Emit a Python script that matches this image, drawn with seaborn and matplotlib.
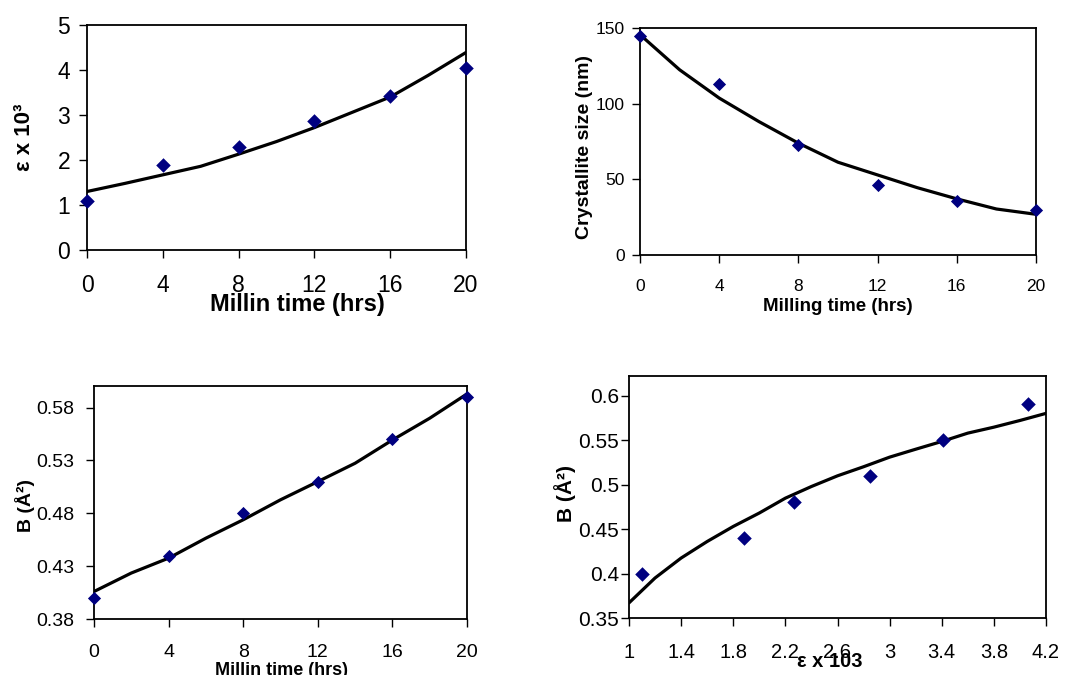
import numpy as np
import pandas as pd
import matplotlib
matplotlib.use("Agg")
import matplotlib.pyplot as plt
import seaborn as sns

# ---------------- data ----------------
milling_time = [0, 4, 8, 12, 16, 20]
strain = [1.09, 1.90, 2.30, 2.87, 3.43, 4.04]            # eps x 10^3
crystallite = [144.5, 113, 72.5, 46, 36, 29.5]           # nm
b_factor = [0.40, 0.44, 0.48, 0.51, 0.55, 0.59]          # A^2

fit_time = [0, 2, 4, 6, 8, 10, 12, 14, 16, 18, 20]
strain_fit = [1.30, 1.48, 1.67, 1.86, 2.13, 2.41, 2.72, 3.06, 3.40, 3.88, 4.39]
cryst_fit = [145.6, 122.4, 103.7, 88.2, 73.9, 61.3, 52.9, 44.5, 37.1, 30.4, 26.9]
b_fit = [0.406, 0.4235, 0.4376, 0.4565, 0.4739, 0.4928, 0.510, 0.5274, 0.5494, 0.570, 0.593]

strain_b_x = [1.10, 1.88, 2.27, 2.85, 3.41, 4.06]
strain_b_y = [0.40, 0.44, 0.48, 0.51, 0.55, 0.59]
sb_fit_x = [1.0, 1.2, 1.4, 1.6, 1.8, 2.0, 2.2, 2.4, 2.6, 2.8, 3.0, 3.2, 3.4, 3.6, 3.8, 4.0, 4.2]
sb_fit_y = [0.367, 0.395, 0.4174, 0.436, 0.4529, 0.468, 0.4847, 0.4978, 0.5098, 0.520,
            0.5308, 0.5397, 0.5484, 0.5578, 0.5645, 0.572, 0.580]

# ---------------- style ----------------
sns.set_theme(style="ticks")
plt.rcParams["font.family"] = ["Liberation Sans", "DejaVu Sans"]
plt.rcParams["text.color"] = "black"
plt.rcParams["axes.labelcolor"] = "black"
plt.rcParams["xtick.color"] = "black"
plt.rcParams["ytick.color"] = "black"

W, H = 1082, 675
fig = plt.figure(figsize=(W / 100, H / 100), dpi=100)


def add_axes(left, right, top, bottom):
    return fig.add_axes([left / W, 1 - bottom / H, (right - left) / W, (bottom - top) / H])


MARK = "#000080"


def draw(ax, px, py, lx, ly, ms):
    sns.lineplot(x=lx, y=ly, ax=ax, color="black", linewidth=2.3, sort=False)
    sns.scatterplot(x=px, y=py, ax=ax, marker="D", s=ms, color=MARK,
                    edgecolor=MARK, linewidth=0, clip_on=False, zorder=5)
    for sp in ax.spines.values():
        sp.set_visible(True)
        sp.set_color("black")
        sp.set_linewidth(1.3)
    ax.tick_params(axis="both", direction="out", length=6, width=1.0, color="black",
                   top=False, right=False, labelcolor="black")


# Panel 1
ax1 = add_axes(87, 466, 25, 250)
draw(ax1, milling_time, strain, fit_time, strain_fit, 55)
ax1.set_xlim(0, 20)
ax1.set_ylim(0, 5)
ax1.set_xticks([0, 4, 8, 12, 16, 20])
ax1.set_yticks([0, 1, 2, 3, 4, 5])
ax1.tick_params(axis="x", labelsize=16.5, pad=11)
ax1.tick_params(axis="y", labelsize=16.5, pad=6)
ax1.set_xlabel("Millin time (hrs)", fontsize=17, fontweight="bold", va="center")
ax1.xaxis.set_label_coords(0.554, -0.24)
ax1.set_ylabel("ε x 10³", fontsize=16, fontweight="bold", va="center")
ax1.yaxis.set_label_coords(-0.164, 0.5)

# Panel 2
ax2 = add_axes(640, 1036, 28, 255)
draw(ax2, milling_time, crystallite, fit_time, cryst_fit, 45)
ax2.set_xlim(0, 20)
ax2.set_ylim(0, 150)
ax2.set_xticks([0, 4, 8, 12, 16, 20])
ax2.set_yticks([0, 50, 100, 150])
ax2.tick_params(axis="x", labelsize=12.5, pad=11)
ax2.tick_params(axis="y", labelsize=12.5, pad=5)
ax2.set_xlabel("Milling time (hrs)", fontsize=13.5, fontweight="bold", va="center")
ax2.xaxis.set_label_coords(0.5, -0.225)
ax2.set_ylabel("Crystallite size (nm)", fontsize=14, fontweight="bold", va="center")
ax2.yaxis.set_label_coords(-0.139, 0.474)

# Panel 3
ax3 = add_axes(94, 467, 386, 619)
draw(ax3, milling_time, b_factor, fit_time, b_fit, 45)
ax3.set_xlim(0, 20)
ax3.set_ylim(0.38, 0.6005)
ax3.set_xticks([0, 4, 8, 12, 16, 20])
ax3.set_yticks([0.38, 0.43, 0.48, 0.53, 0.58])
ax3.set_yticklabels(["0.38", "0.43", "0.48", "0.53", "0.58"])
ax3.tick_params(axis="x", labelsize=14, pad=12)
ax3.tick_params(axis="y", labelsize=14, pad=8)
ax3.set_xlabel("Millin time (hrs)", fontsize=13, fontweight="bold", va="center")
ax3.xaxis.set_label_coords(0.503, -0.22)
ax3.set_ylabel("B (Å²)", fontsize=14, fontweight="bold", va="center")
ax3.yaxis.set_label_coords(-0.186, 0.486)

# Panel 4
ax4 = add_axes(629, 1046, 376, 618)
draw(ax4, strain_b_x, strain_b_y, sb_fit_x, sb_fit_y, 55)
ax4.set_xlim(1, 4.2)
ax4.set_ylim(0.35, 0.622)
xt = [1, 1.4, 1.8, 2.2, 2.6, 3, 3.4, 3.8, 4.2]
ax4.set_xticks(xt)
ax4.set_xticklabels(["1", "1.4", "1.8", "2.2", "2.6", "3", "3.4", "3.8", "4.2"])
yt = [0.35, 0.4, 0.45, 0.5, 0.55, 0.6]
ax4.set_yticks(yt)
ax4.set_yticklabels(["0.35", "0.4", "0.45", "0.5", "0.55", "0.6"])
ax4.tick_params(axis="x", labelsize=14.5, pad=12)
ax4.tick_params(axis="y", labelsize=15, pad=1)
ax4.set_xlabel("ε x 103", fontsize=14.5, fontweight="bold", va="center")
ax4.xaxis.set_label_coords(0.482, -0.18)
ax4.set_ylabel("B (Å²)", fontsize=15, fontweight="bold", va="center")
ax4.yaxis.set_label_coords(-0.153, 0.516)

fig.savefig("out.png", dpi=100, facecolor="white")
